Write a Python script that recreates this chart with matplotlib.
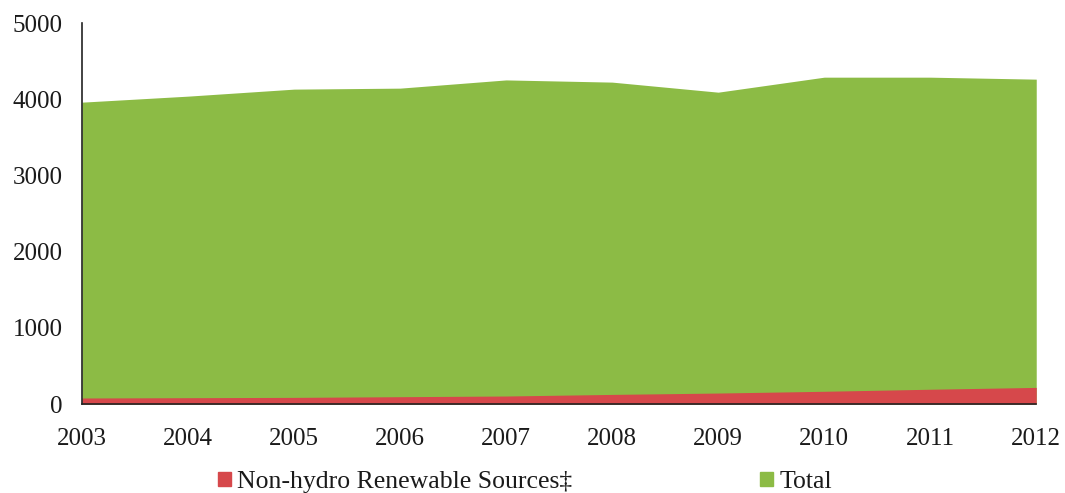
import matplotlib
matplotlib.use('Agg')
import matplotlib.pyplot as plt
from matplotlib.patches import Patch

plt.rcParams['font.family'] = ['Liberation Serif', 'DejaVu Serif']

# 发电量数据 (十亿千瓦时)
years = [2003, 2004, 2005, 2006, 2007, 2008, 2009, 2010, 2011, 2012]
total = [3963, 4042, 4134, 4147, 4255, 4226, 4094, 4291, 4291, 4265]
non_hydro = [79, 83, 87, 96, 105, 126, 144, 167, 194, 218]
labels = ['Non-hydro Renewable Sources‡', 'Total']

green = '#8cbb45'
red = '#d6484b'

fig = plt.figure(figsize=(10.65, 4.93), dpi=100)
ax = fig.add_axes([0.077, 0.1805, 0.896, 0.7725])

# 总量在后面，非水可再生在前面
ax.fill_between(years, 0, total, color=green, linewidth=0)
ax.fill_between(years, 0, non_hydro, color=red, linewidth=0)

ax.set_xlim(2003, 2012)
ax.set_ylim(0, 5000)
ax.set_xticks(years)
ax.set_yticks(range(0, 5001, 1000))
ax.tick_params(length=0, labelsize=18, colors='#1a1a1a')
ax.tick_params(axis='x', pad=17)
ax.tick_params(axis='y', pad=14)
for s in ['top', 'right']:
    ax.spines[s].set_visible(False)
for s in ['left', 'bottom']:
    ax.spines[s].set_color('#222222')
    ax.spines[s].set_linewidth(1.2)

handles = [Patch(color=red), Patch(color=green)]
fig.legend(handles, labels, loc='center left', bbox_to_anchor=(0.2047, 0.022),
           ncol=2, frameon=False, fontsize=18.5, handlelength=0.5, handleheight=0.5,
           handletextpad=0.25, columnspacing=7.3, borderpad=0, borderaxespad=0,
           labelcolor='#1a1a1a')

fig.savefig('out.png', dpi=100)
